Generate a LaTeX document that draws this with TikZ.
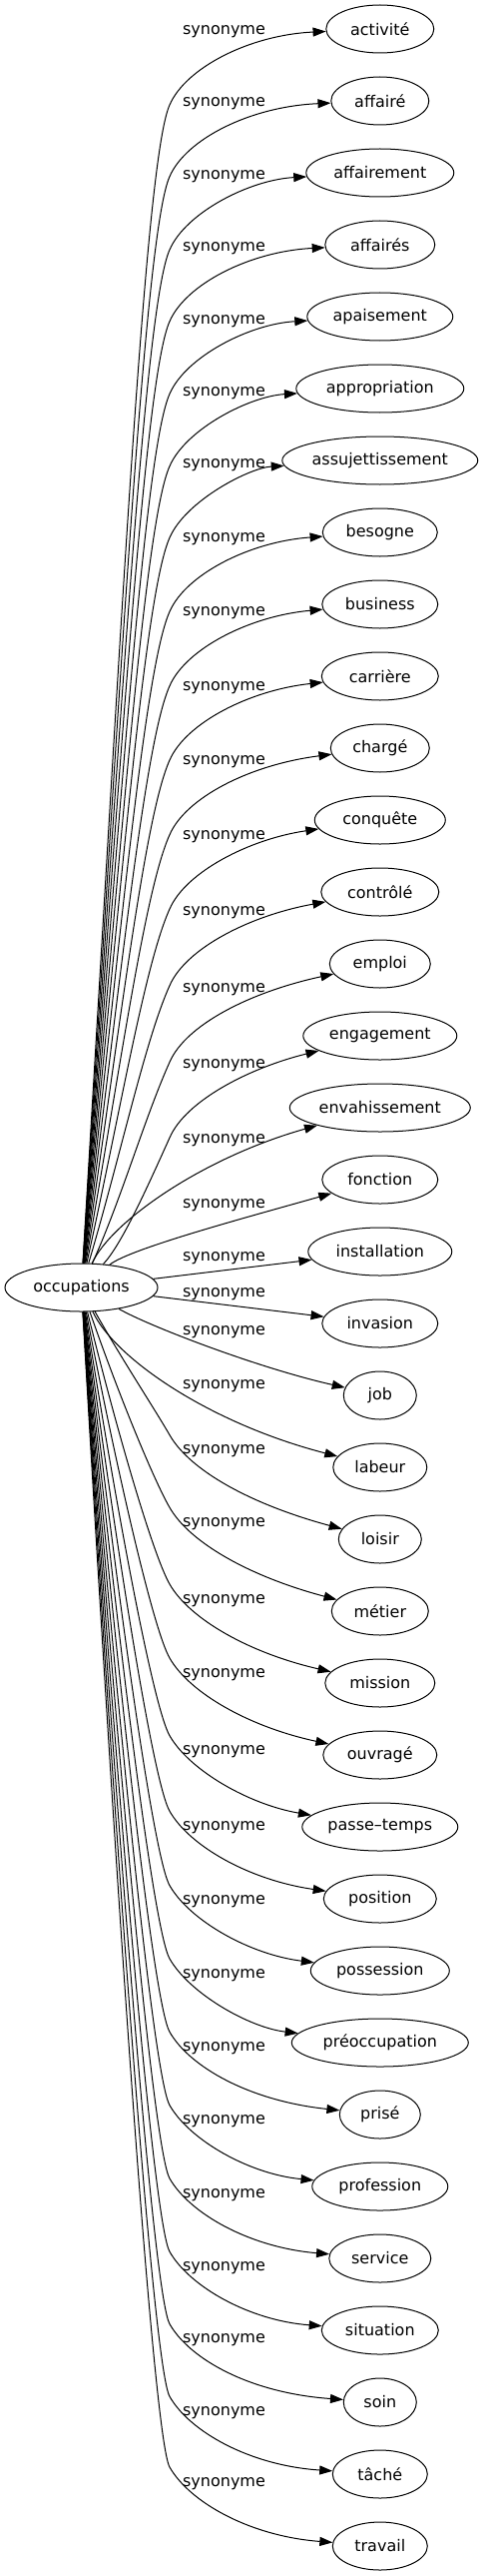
\documentclass[tikz,border=0pt]{standalone}
\usepackage{fontspec}
\setmainfont{DejaVu Sans}
\usetikzlibrary{shapes.geometric,arrows.meta}
\begin{document}
\begin{tikzpicture}[x=1pt,y=-1pt,
  every node/.style={font=\fontsize{16}{19}\selectfont},
  ell/.style={ellipse, draw, line width=1pt, inner sep=0pt, minimum height=48pt},
  lbl/.style={inner sep=0pt, anchor=base},
  syn/.style={draw, line width=1pt, -{Triangle[length=13pt,width=9pt]}}]
\useasboundingbox (0,0) rectangle (485,2579);
\node[ell, minimum width=153pt] (occ) at (81.5,1289) {\makebox[0pt]{occupations}};
\foreach \i/\w/\yl/\t in {
 0/108/30/activité, 1/98/101.7/affairé, 2/148/175/affairement, 3/110/246.7/affairés,
 4/146/319.3/apaisement, 5/168/391.7/appropriation, 6/196/463.3/assujettissement,
 7/115/537.3/besogne, 8/116/611.7/business, 9/117/686/carrière, 10/99/760.7/chargé,
 11/131/835/conquête, 12/118/911.7/contrôlé, 13/101/988.3/emploi, 14/154/1064/engagement,
 15/181/1139.3/envahissement, 16/116/1204/fonction, 17/144/1257.3/installation,
 18/116/1293.3/invasion, 19/73/1331.7/job, 20/94/1385/labeur, 21/83/1450.7/loisir,
 22/97/1523.3/métier, 23/110/1600/mission, 24/114/1674/ouvragé, 25/156/1751.7/passe–temps,
 26/113/1827.3/position, 27/139/1901.7/possession, 28/177/1975/préoccupation,
 29/81/2048.3/prisé, 30/136/2121.7/profession, 31/102/2195/service, 32/117/2268.3/situation,
 33/73/2340.7/soin, 34/95/2413.3/tâché, 35/95/2484/travail}{
  \node[ell, minimum width={\w*1pt}] (t\i) at (380.8,{29+72*\i}) {\makebox[0pt]{\t}};
  \node[lbl] (l\i) at (224.5,{\yl+5}) {synonyme};
}
% upper edges
\foreach \i/\yl in {0/30, 1/101.7, 2/175, 3/246.7, 4/319.3, 5/391.7, 6/463.3, 7/537.3,
  8/611.7, 9/686, 10/760.7, 11/835, 12/911.7, 13/988.3, 14/1064}{
  \draw[syn] (occ) .. controls (121.4,{608+0.6*\yl}) and (145.4,{\yl+129.6}) .. (170,{\yl+75})
    .. controls (186,{\yl+38}) and (250,{\yl+5}) .. (t\i);
}
% middle edges
\draw[syn] (occ) .. controls (110,1225) and (200,1160) .. (t15);
\draw[syn] (occ) .. controls (130,1250) and (250,1218) .. (t16);
\draw[syn] (occ) -- (t17);
\draw[syn] (occ) -- (t18);
\draw[syn] (occ) .. controls (150,1328) and (260,1370) .. (t19);
\draw[syn] (occ) .. controls (115,1360) and (210,1425) .. (t20);
% lower edges
\foreach \i/\yl in {21/1450.7, 22/1523.3, 23/1600, 24/1674, 25/1751.7, 26/1827.3, 27/1901.7,
  28/1975, 29/2048.3, 30/2121.7, 31/2195, 32/2268.3, 33/2340.7, 34/2413.3, 35/2484}{
  \draw[syn] (occ) .. controls (121.4,{489.2+0.6*\yl}) and (155,{\yl-40}) .. (170,{\yl-14})
    .. controls (190,{\yl+21}) and (250,{\yl+55}) .. (t\i);
}
\end{tikzpicture}
\end{document}
